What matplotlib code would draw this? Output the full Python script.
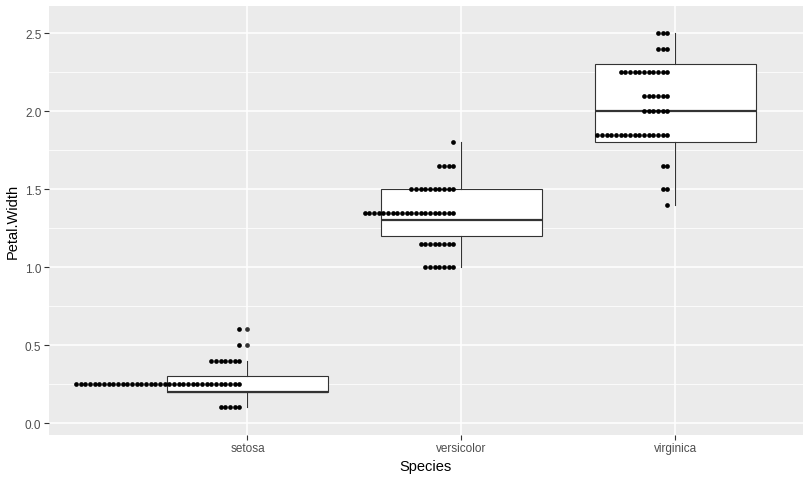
import numpy as np
import matplotlib
matplotlib.use("Agg")
import matplotlib.pyplot as plt

# categories
species = ["setosa", "versicolor", "virginica"]

# dotplot bins (bin centre, number of dots)
setosa_bins = [0.1, 0.25, 0.4, 0.5, 0.6]
setosa_counts = [5, 36, 7, 1, 1]
versicolor_bins = [1.0, 1.15, 1.35, 1.5, 1.65, 1.8]
versicolor_counts = [7, 8, 20, 10, 4, 1]
virginica_bins = [1.4, 1.5, 1.65, 1.85, 2.0, 2.1, 2.25, 2.4, 2.5]
virginica_counts = [1, 2, 2, 16, 6, 6, 11, 3, 3]

# boxplot statistics
q1 = [0.2, 1.2, 1.8]
med = [0.2, 1.3, 2.0]
q3 = [0.3, 1.5, 2.3]
whislo = [0.1, 1.0, 1.4]
whishi = [0.4, 1.8, 2.5]
outliers = [[0.5, 0.6], [], []]

plt.rcParams['font.family'] = ['Liberation Sans', 'DejaVu Sans']

fig = plt.figure(figsize=(8.11, 4.81), dpi=100)
W, H = 811, 481
ax = fig.add_axes([49 / W, 1 - 435.7 / H, (802.7 - 49) / W, (435.7 - 7) / H])
ax.set_facecolor('#EBEBEB')
for s in ax.spines.values():
    s.set_visible(False)

# boites
stats = []
for i in range(3):
    stats.append(dict(q1=q1[i], med=med[i], q3=q3[i], whislo=whislo[i],
                      whishi=whishi[i], fliers=outliers[i]))
ax.bxp(stats, positions=[1, 2, 3], widths=0.75, showcaps=False,
       patch_artist=True, manage_ticks=False,
       boxprops=dict(facecolor='white', edgecolor='#333333', linewidth=0.8),
       whiskerprops=dict(color='#333333', linewidth=0.8),
       medianprops=dict(color='#333333', linewidth=1.6),
       flierprops=dict(marker='o', markerfacecolor='#333333',
                       markeredgewidth=0, markersize=3.4),
       zorder=2)

# points empiles vers la gauche
px = 1.0 / 214.0
offset = 8 * px
step = 4.67 * px
all_bins = [setosa_bins, versicolor_bins, virginica_bins]
all_counts = [setosa_counts, versicolor_counts, virginica_counts]
for k in range(3):
    xs, ys = [], []
    for b, c in zip(all_bins[k], all_counts[k]):
        for j in range(c):
            xs.append(k + 1 - offset - j * step)
            ys.append(b)
    ax.plot(xs, ys, 'o', color='black', markersize=3.4, markeredgewidth=0,
            zorder=3)

ax.set_xlim(0.0724, 3.595)
ax.set_ylim(-0.075, 2.675)

# grille facon ggplot
ax.set_yticks([0.0, 0.5, 1.0, 1.5, 2.0, 2.5])
ax.set_yticklabels(["0.0", "0.5", "1.0", "1.5", "2.0", "2.5"])
ax.set_yticks([0.25, 0.75, 1.25, 1.75, 2.25], minor=True)
ax.set_xticks([1, 2, 3])
ax.set_xticklabels(species)
ax.grid(which='major', color='white', linewidth=1.1)
ax.grid(which='minor', axis='y', color='white', linewidth=0.55)
ax.set_axisbelow(True)
ax.tick_params(which='major', length=3.5, width=0.8, color='#333333',
               labelcolor='#4D4D4D', labelsize=8.5, pad=2)
ax.tick_params(which='minor', length=0)

ax.set_xlabel("Species", fontsize=10.5, color='black', labelpad=3)
ax.set_ylabel("Petal.Width", fontsize=10.5, color='black', labelpad=4)

fig.savefig("out.png", dpi=100)
